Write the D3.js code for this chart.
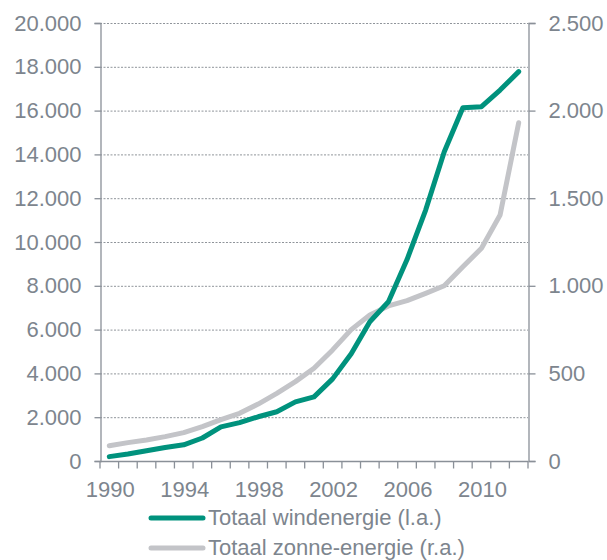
<!DOCTYPE html>
<html>
<head>
<meta charset="utf-8">
<script src="https://cdn.jsdelivr.net/npm/d3@7"></script>
<style>
  body { margin: 0; background: #fff; }
  text { font-family: "Liberation Sans", Arial, sans-serif; fill: #7d858e; }
</style>
</head>
<body>
<div id="chart"></div>
<script>
var years = [1990, 1991, 1992, 1993, 1994, 1995, 1996, 1997, 1998, 1999, 2000, 2001,
  2002, 2003, 2004, 2005, 2006, 2007, 2008, 2009, 2010, 2011, 2012]
var wind = [200, 320, 470, 620, 740, 1050, 1560, 1750, 2020, 2250, 2700, 2930,
  3750, 4900, 6360, 7270, 9200, 11460, 14120, 16130, 16180, 16940, 17780]
var solar = [87, 105, 120, 139, 162, 196, 236, 272, 325, 386, 453, 529,
  634, 750, 833, 885, 915, 957, 1000, 1109, 1214, 1404, 1931]
var leftTicks = [0, 2000, 4000, 6000, 8000, 10000, 12000, 14000, 16000, 18000, 20000]
var rightTicks = [0, 500, 1000, 1500, 2000, 2500]
var yearLabels = [1990, 1994, 1998, 2002, 2006, 2010]
var legendNames = ["Totaal windenergie (l.a.)", "Totaal zonne-energie (r.a.)"]

var width = 607,
  height = 560,
  plotLeft = 100,
  plotRight = 528,
  plotTop = 23,
  plotBottom = 461,
  axisColor = "#8a9098",
  green = "#00927d",
  grey = "#c3c4c8"

var nl = d3.formatLocale({ decimal: ",", thousands: ".", grouping: [3], currency: ["", ""] })
var fmt = nl.format(",d")

var svg = d3.select("#chart").append("svg")
  .attr("width", width)
  .attr("height", height)

var x = d3.scaleBand()
  .domain(years)
  .range([plotLeft, plotRight])

var yLeft = d3.scaleLinear()
  .domain([0, 20000])
  .range([plotBottom, plotTop])

var yRight = d3.scaleLinear()
  .domain([0, 2500])
  .range([plotBottom, plotTop])

// dashed grid
svg.append("g")
  .selectAll("line")
  .data(leftTicks.slice(1))
  .enter().append("line")
    .attr("x1", plotLeft)
    .attr("x2", plotRight)
    .attr("y1", d => yLeft(d) + 0.5)
    .attr("y2", d => yLeft(d) + 0.5)
    .attr("stroke", "#8f949a")
    .attr("stroke-width", 1)
    .attr("stroke-dasharray", "2,1.5")

// left axis
var gl = svg.append("g")
  .attr("transform", "translate(" + (plotLeft + 0.5) + ",0)")
  .call(d3.axisLeft(yLeft).tickValues(leftTicks).tickFormat(fmt).tickSize(6).tickPadding(13))
gl.select(".domain").attr("stroke", axisColor).attr("stroke-width", 1.3)
gl.selectAll(".tick line").attr("stroke", axisColor).attr("stroke-width", 1.3)
gl.selectAll("text").attr("fill", null).style("font-size", "22px")

// right axis
var gr = svg.append("g")
  .attr("transform", "translate(" + (plotRight + 0.5) + ",0)")
  .call(d3.axisRight(yRight).tickValues(rightTicks).tickFormat(fmt).tickSize(7).tickPadding(13))
gr.select(".domain").attr("stroke", axisColor).attr("stroke-width", 1.3)
gr.selectAll(".tick line").attr("stroke", axisColor).attr("stroke-width", 1.3)
gr.selectAll("text").attr("fill", null).style("font-size", "22px")

// bottom axis: ticks between years, labels every 4 years
var gb = svg.append("g")
  .attr("transform", "translate(0," + (plotBottom + 0.5) + ")")
gb.append("line")
  .attr("x1", plotLeft)
  .attr("x2", plotRight)
  .attr("stroke", axisColor)
  .attr("stroke-width", 1.3)
gb.selectAll(".tk")
  .data(years.concat([null]))
  .enter().append("line")
    .attr("class", "tk")
    .attr("x1", d => d === null ? plotRight : x(d))
    .attr("x2", d => d === null ? plotRight : x(d))
    .attr("y1", 0)
    .attr("y2", 7)
    .attr("stroke", axisColor)
    .attr("stroke-width", 1.3)
gb.selectAll(".lbl")
  .data(yearLabels)
  .enter().append("text")
    .attr("class", "lbl")
    .attr("x", d => x(d) + x.bandwidth() / 2 + 1)
    .attr("y", 35)
    .attr("text-anchor", "middle")
    .style("font-size", "22px")
    .text(d => d)

// lines
var windLine = d3.line()
  .x((d, i) => x(years[i]) + x.bandwidth() / 2)
  .y(d => yLeft(d))

var solarLine = d3.line()
  .x((d, i) => x(years[i]) + x.bandwidth() / 2)
  .y(d => yRight(d))

svg.append("path")
  .datum(solar)
  .attr("d", solarLine)
  .attr("fill", "none")
  .attr("stroke", grey)
  .attr("stroke-width", 5)
  .attr("stroke-linecap", "round")
  .attr("stroke-linejoin", "round")

svg.append("path")
  .datum(wind)
  .attr("d", windLine)
  .attr("fill", "none")
  .attr("stroke", green)
  .attr("stroke-width", 5)
  .attr("stroke-linecap", "round")
  .attr("stroke-linejoin", "round")

// legend
var legend = svg.append("g")
  .selectAll("g")
  .data(legendNames)
  .enter().append("g")
    .attr("transform", (d, i) => "translate(0," + (518 + i * 30) + ")")

legend.append("line")
  .attr("x1", 151)
  .attr("x2", 203)
  .attr("stroke", (d, i) => i === 0 ? green : grey)
  .attr("stroke-width", 5)
  .attr("stroke-linecap", "round")

legend.append("text")
  .attr("x", 208)
  .attr("y", 7)
  .style("font-size", "22px")
  .text(d => d)
</script>
</body>
</html>
